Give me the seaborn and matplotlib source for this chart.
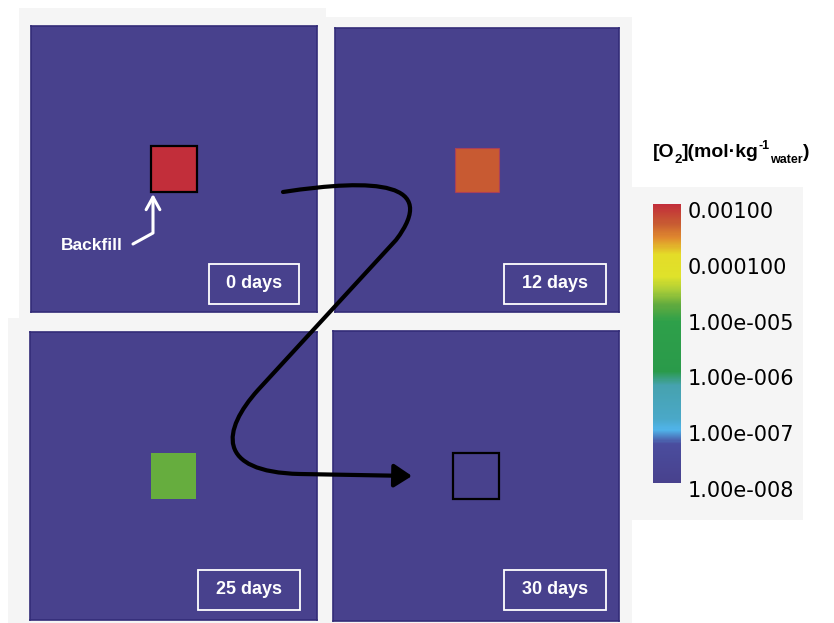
import numpy as np
import pandas as pd
import seaborn as sns
import matplotlib.pyplot as plt
from matplotlib.colors import LinearSegmentedColormap, LogNorm
from matplotlib.patches import Rectangle, FancyArrowPatch
from matplotlib.path import Path
from matplotlib.cm import ScalarMappable
from matplotlib.transforms import ScaledTranslation

# Dissolved O2 in the backfill cell over time (mol per kg water)
day_labels = ["0 days", "12 days", "25 days", "30 days"]
backfill_o2 = [1.0e-3, 4.5e-4, 1.6e-5, 1.0e-8]
host_rock_o2 = 1.0e-8

cbar_ticks = [1e-3, 1e-4, 1e-5, 1e-6, 1e-7, 1e-8]
cbar_ticklabels = ["0.00100", "0.000100", "1.00e-005",
                   "1.00e-006", "1.00e-007", "1.00e-008"]

sns.set_theme(style="white")
plt.rcParams["font.family"] = ["Liberation Sans", "DejaVu Sans"]

W, H = 834, 623
fig = plt.figure(figsize=(W / 100, H / 100), dpi=100)
fig.patch.set_facecolor("white")


def fpt(x, y):
    return x / W, 1 - y / H


def add_axes_px(x0, y0, x1, y1):
    return fig.add_axes([x0 / W, 1 - y1 / H, (x1 - x0) / W, (y1 - y0) / H])


# rainbow-like log colour scale
stops = [
    (0.00, "#48418d"),
    (0.14, "#4a4d9e"),
    (0.19, "#50b4ea"),
    (0.23, "#4aa8c8"),
    (0.35, "#46a2ae"),
    (0.40, "#2a9a4a"),
    (0.58, "#2ea04a"),
    (0.64, "#62ab3e"),
    (0.69, "#a8cc38"),
    (0.74, "#dfe22a"),
    (0.82, "#e4dc28"),
    (0.88, "#e08a2e"),
    (0.93, "#c85c32"),
    (1.00, "#c22e3a"),
]
cmap = LinearSegmentedColormap.from_list("o2", stops, N=256)
norm = LogNorm(vmin=1e-8, vmax=1e-3)

# light grey page backgrounds behind the panels
for (x0, y0, x1, y1) in [(19, 8, 326, 318), (326, 17, 632, 318),
                         (8, 318, 326, 623), (326, 318, 632, 623),
                         (632, 187, 803, 520)]:
    fig.patches.append(Rectangle(fpt(x0, y1), (x1 - x0) / W, (y1 - y0) / H,
                                 transform=fig.transFigure,
                                 facecolor="#f5f5f5", edgecolor="none",
                                 zorder=-5))

panel_px = [(31, 26, 317, 312), (335, 28, 619, 312),
            (30, 332, 317, 620), (333, 331, 619, 621)]
label_px = [(209, 264, 299, 304), (504, 264, 606, 304),
            (198, 570, 300, 610), (504, 570, 606, 610)]
outline_colors = ["black", "#a8405a", None, "black"]
outline_widths = [1.6, 0.8, 0, 1.6]

n = 19
core = slice(8, 11)
for i, (box, lab, val) in enumerate(zip(panel_px, label_px, backfill_o2)):
    ax = add_axes_px(*box)
    grid = np.full((n, n), host_rock_o2)
    grid[core, core] = val
    sns.heatmap(pd.DataFrame(grid), ax=ax, cmap=cmap, norm=norm, cbar=False,
                xticklabels=False, yticklabels=False, linewidths=0,
                rasterized=True)
    for s in ax.spines.values():
        s.set_visible(True)
        s.set_color("#332c78")
        s.set_linewidth(1.2)
    if outline_colors[i] is not None:
        ax.add_patch(Rectangle((8, 8), 3, 3, fill=False,
                               edgecolor=outline_colors[i],
                               linewidth=outline_widths[i], zorder=5))
    # time label box
    x0, y0, x1, y1 = lab
    fig.patches.append(Rectangle(fpt(x0, y1), (x1 - x0) / W, (y1 - y0) / H,
                                 transform=fig.transFigure, fill=False,
                                 edgecolor="white", linewidth=1.3, zorder=5))
    cx, cy = fpt((x0 + x1) / 2, (y0 + y1) / 2)
    fig.text(cx, cy, day_labels[i], color="white", fontsize=13,
             fontweight="bold", ha="center", va="center", zorder=6)

# Backfill annotation
bx, by = fpt(92, 245)
fig.text(bx, by, "Backfill", color="white", fontsize=12.5, fontweight="bold",
         ha="center", va="center", zorder=6)
wpath = Path([fpt(133, 244), fpt(153, 233), fpt(153, 194)],
             [Path.MOVETO, Path.LINETO, Path.LINETO])
fig.patches.append(FancyArrowPatch(path=wpath, transform=fig.transFigure,
                                   arrowstyle="->,head_length=1.0,head_width=0.55",
                                   mutation_scale=9, color="white",
                                   linewidth=2.2, zorder=7))

# time-sequence arrow linking the panels
verts = [fpt(283, 192),
         fpt(375, 178), fpt(440, 182), fpt(396, 240),
         fpt(258, 390),
         fpt(222, 430), fpt(215, 472), fpt(300, 474),
         fpt(412, 476)]
codes = [Path.MOVETO,
         Path.CURVE4, Path.CURVE4, Path.CURVE4,
         Path.LINETO,
         Path.CURVE4, Path.CURVE4, Path.CURVE4,
         Path.LINETO]
fig.patches.append(FancyArrowPatch(path=Path(verts, codes),
                                   transform=fig.transFigure,
                                   arrowstyle="-|>,head_length=1.0,head_width=0.65",
                                   mutation_scale=10.8, color="black",
                                   linewidth=3.0, zorder=8))

# colour bar
cax = add_axes_px(653, 204, 681, 483)
cb = fig.colorbar(ScalarMappable(norm=norm, cmap=cmap), cax=cax,
                  ticks=cbar_ticks)
cb.set_ticklabels(cbar_ticklabels)
cb.outline.set_visible(False)
cax.tick_params(which="both", length=0, pad=5, colors="black")
cax.minorticks_off()
shift = ScaledTranslation(0, -6 / 100, fig.dpi_scale_trans)
for t in cax.get_yticklabels():
    t.set_fontfamily("DejaVu Sans")
    t.set_fontsize(15)
    t.set_transform(t.get_transform() + shift)

# colour bar title, built from pieces so the sub/superscripts sit tight
pieces = [("[O", 14, 0), ("2", 9.5, -6), ("](mol\u00b7kg", 14, 0),
          ("-1", 9, 8), ("water", 9, -6), (")", 14, 0)]
renderer = fig.canvas.get_renderer()
x_px, base_px = 653, 157
for txt, size, dy in pieces:
    t = fig.text(*fpt(x_px, base_px - dy), txt, fontsize=size,
                 fontweight="bold", ha="left", va="baseline", color="black")
    x_px += t.get_window_extent(renderer).width

fig.savefig("out.png", dpi=100, facecolor="white")
